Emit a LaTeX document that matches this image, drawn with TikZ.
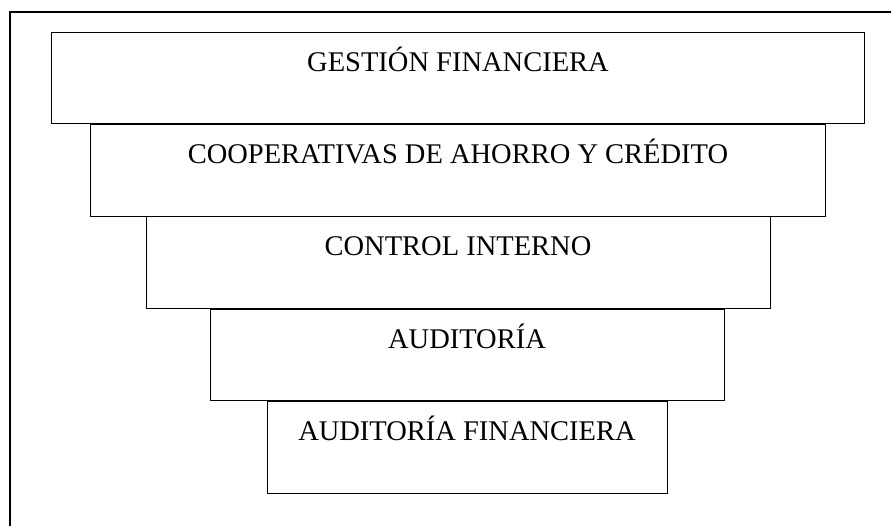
\documentclass[tikz,border=0pt]{standalone}
\usepackage{fontspec}
\setmainfont{Liberation Serif}
\usetikzlibrary{positioning}

\tikzset{
  nivel/.style={draw, line width=0.9pt, inner sep=0pt, text height=39pt,
    text depth=52.5pt, font=\fontsize{28.5}{34}\selectfont},
}

\begin{document}
\begin{tikzpicture}[x=1pt,y=1pt]
\useasboundingbox (0,0) rectangle (891,526);
\clip (0,0) rectangle (891,526);
% marco
\draw[line width=2pt] (10,514) rectangle (900,-10);
% niveles
\node[nivel, anchor=north, minimum width=812.6pt] (gestion) at (458,494.3) {GESTIÓN FINANCIERA};
\node[nivel, minimum width=734.3pt, below=0pt of gestion] (cooperativas) {COOPERATIVAS DE AHORRO Y CRÉDITO};
\node[nivel, minimum width=624pt, below=0pt of cooperativas] (control) {CONTROL INTERNO};
\node[nivel, minimum width=514pt, below=0pt of control, xshift=9pt] (auditoria) {AUDITORÍA};
\node[nivel, minimum width=400pt, below=0pt of auditoria] (audfin) {AUDITORÍA FINANCIERA};
\end{tikzpicture}
\end{document}
